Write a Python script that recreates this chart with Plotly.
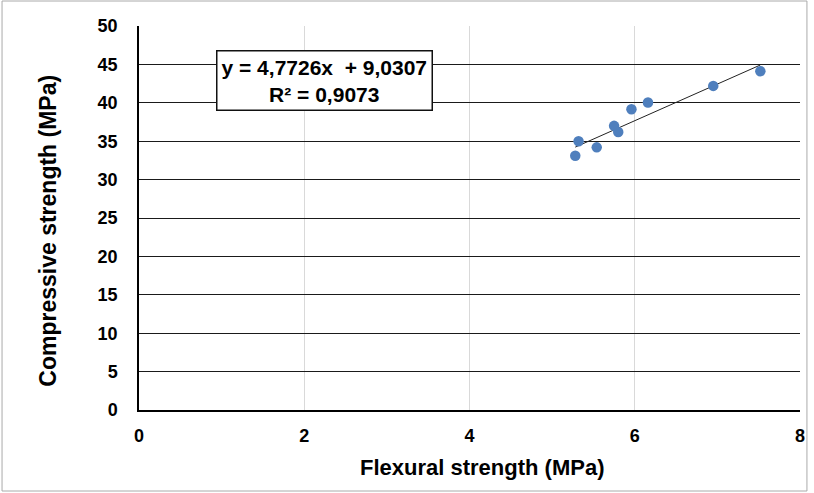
import plotly.graph_objects as go

# Data
flexural = [5.28, 5.32, 5.54, 5.75, 5.80, 5.96, 6.16, 6.95, 7.52]
compressive = [33.1, 35.0, 34.2, 37.0, 36.2, 39.15, 40.05, 42.2, 44.1]
slope = 4.7726
intercept = 9.0307
r2 = 0.9073
x_ticks = [0, 2, 4, 6, 8]
y_ticks = [0, 5, 10, 15, 20, 25, 30, 35, 40, 45, 50]
x_title = "Flexural strength (MPa)"
y_title = "Compressive strength (MPa)"

W, H = 814, 493
ml, mr, mt, mb = 139, 9, 26, 83
pw, ph = W - ml - mr, H - mt - mb

font = "Liberation Sans, Arial, sans-serif"

def px_x(p):
    return (p - ml) / pw

def px_y(p):
    return 1 - (p - mt) / ph

xmin, xmax = min(flexural), max(flexural)
trend_x = [xmin, xmax]
trend_y = [slope * v + intercept for v in trend_x]

fig = go.Figure()
fig.add_trace(go.Scatter(x=trend_x, y=trend_y, mode="lines",
                         line=dict(color="#222222", width=1), hoverinfo="skip"))
fig.add_trace(go.Scatter(x=flexural, y=compressive, mode="markers",
                         marker=dict(color="#4f7fbd", size=10.5)))

def fmt(v, d):
    return f"{v:.{d}f}".replace(".", ",")

eq = f"y = {fmt(slope, 4)}x  + {fmt(intercept, 4)}<br>R² = {fmt(r2, 4)}"
fig.add_annotation(x=px_x(326), y=px_y(80.5), xref="paper", yref="paper",
                   xanchor="center", yanchor="middle",
                   text=eq, showarrow=False, align="center",
                   font=dict(family=font, size=21, color="black", weight="bold"),
                   bgcolor="white", bordercolor="#111111", borderwidth=1.5, borderpad=4)

# axis titles
fig.add_annotation(x=px_x(485), y=px_y(467), xref="paper", yref="paper",
                   xanchor="center", yanchor="middle", text=x_title, showarrow=False,
                   font=dict(family=font, size=22, color="black", weight="bold"))
fig.add_annotation(x=px_x(47), y=px_y(231), xref="paper", yref="paper",
                   xanchor="center", yanchor="middle", text=y_title, showarrow=False,
                   textangle=-90,
                   font=dict(family=font, size=23, color="black", weight="bold"))

# outer frame
fig.add_shape(type="rect", xref="paper", yref="paper",
              x0=px_x(1), x1=px_x(W - 2), y0=px_y(H - 2), y1=px_y(1),
              line=dict(color="#aaaaaa", width=1), layer="below")

fig.update_layout(
    width=W, height=H,
    margin=dict(l=ml, r=mr, t=mt, b=mb),
    paper_bgcolor="white", plot_bgcolor="white",
    showlegend=False,
    font=dict(family=font, size=18, color="black"),
    xaxis=dict(range=[0, 8], tickvals=x_ticks, showgrid=True, gridcolor="#d9d9d9",
               gridwidth=1, zeroline=False, showline=True, linecolor="black", linewidth=1.5,
               ticks="", ticklabelstandoff=9,
               tickfont=dict(family=font, size=18, weight="bold")),
    yaxis=dict(range=[0, 50], tickvals=y_ticks, showgrid=True, gridcolor="#1a1a1a",
               gridwidth=1.3, zeroline=False, showline=True, linecolor="black", linewidth=1.5,
               ticks="", ticklabelstandoff=16,
               tickfont=dict(family=font, size=18, weight="bold")),
)

fig.write_html("out.html")
